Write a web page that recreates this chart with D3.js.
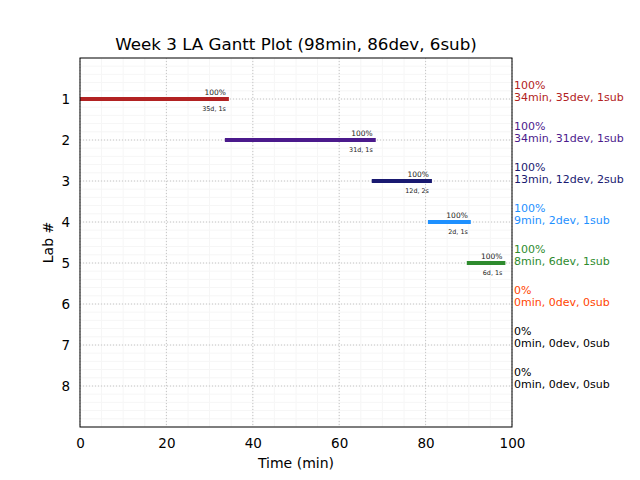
<!DOCTYPE html>
<html><head><meta charset="utf-8">
<script src="https://cdn.jsdelivr.net/npm/d3@7"></script>
<style>body{margin:0;background:#fff}svg{font-family:"DejaVu Sans",sans-serif}</style>
</head><body><svg id="c" width="640" height="480"></svg>
<script>
const labs = [1,2,3,4,5,6,7,8];
const starts = [0,34,68,81,90,0,0,0];
const durations = [34,34,13,9,8,0,0,0];
const devs = [35,31,12,2,6,0,0,0];
const subs = [1,1,2,1,1,0,0,0];
const pcts = [100,100,100,100,100,0,0,0];
const colors = ["#b22222","#4b1a8c","#191970","#1e90ff","#2e8b2e","#ff4500","#000000","#000000"];
const xTicks = [0,20,40,60,80,100];
const title = "Week 3 LA Gantt Plot (98min, 86dev, 6sub)";

const svg = d3.select("#c");
const L=80,R=512,T=58,B=427;
const x = d3.scaleLinear().domain([0,100]).range([L,R]);
const y = d3.scaleLinear().domain([0,9]).range([T,B]);

svg.append("defs").append("clipPath").attr("id","clip").append("rect")
 .attr("x",L).attr("y",T).attr("width",R-L).attr("height",B-T);

// minor grid
const g = svg.append("g");
g.selectAll(".mx").data(d3.range(0,101,5)).join("line")
 .attr("x1",d=>x(d)).attr("x2",d=>x(d)).attr("y1",T).attr("y2",B)
 .attr("stroke","#f6f6f6").attr("stroke-width",1);
g.selectAll(".my").data(d3.range(0,9.01,0.2)).join("line")
 .attr("y1",d=>y(d)).attr("y2",d=>y(d)).attr("x1",L).attr("x2",R)
 .attr("stroke","#f6f6f6").attr("stroke-width",1);
// major grid
g.selectAll(".Mx").data(xTicks).join("line")
 .attr("x1",d=>x(d)).attr("x2",d=>x(d)).attr("y1",T).attr("y2",B)
 .attr("stroke","#b8b8b8").attr("stroke-width",0.8).attr("stroke-dasharray","1,2");
g.selectAll(".My").data(labs).join("line")
 .attr("y1",d=>y(d)).attr("y2",d=>y(d)).attr("x1",L).attr("x2",R)
 .attr("stroke","#b8b8b8").attr("stroke-width",0.8).attr("stroke-dasharray","1,2");

// bars
const bars = svg.append("g").attr("clip-path","url(#clip)");
labs.forEach((lab,i)=>{
  if(durations[i]<=0) return;
  const x0=x(starts[i]), x1=x(starts[i]+durations[i]);
  bars.append("line").attr("x1",x0).attr("x2",x1).attr("y1",y(lab)).attr("y2",y(lab))
    .attr("stroke",colors[i]).attr("stroke-width",4).attr("stroke-linecap","square");
  svg.append("text").attr("x",x1-1).attr("y",y(lab)-4).attr("text-anchor","end")
    .attr("font-size",7.5).attr("fill","#222").text(pcts[i]+"%");
  svg.append("text").attr("x",x1-1).attr("y",y(lab)+12).attr("text-anchor","end")
    .attr("font-size",6.4).attr("fill","#222").text(devs[i]+"d, "+subs[i]+"s");
});

// right texts
labs.forEach((lab,i)=>{
  const t = svg.append("text").attr("x",514).attr("fill",colors[i]).attr("font-size",11);
  t.append("tspan").attr("x",514).attr("y",y(lab)-10.5).text(pcts[i]+"%");
  t.append("tspan").attr("x",514).attr("y",y(lab)+1.5).text(durations[i]+"min, "+devs[i]+"dev, "+subs[i]+"sub");
});

// frame
svg.append("rect").attr("x",L).attr("y",T).attr("width",R-L).attr("height",B-T)
 .attr("fill","none").attr("stroke","#000").attr("stroke-width",1);

// axes
const xa = svg.append("g").attr("transform",`translate(0,${B})`)
 .call(d3.axisBottom(x).tickValues(xTicks).tickSize(0).tickPadding(11).tickFormat(d3.format("d")));
xa.select(".domain").remove();
xa.selectAll("text").attr("font-size",13.5).attr("font-family","DejaVu Sans").attr("fill","#000");
const ya = svg.append("g").attr("transform",`translate(${L},0)`)
 .call(d3.axisLeft(y).tickValues(labs).tickSize(0).tickPadding(10).tickFormat(d3.format("d")));
ya.select(".domain").remove();
ya.selectAll("text").attr("font-size",13.5).attr("font-family","DejaVu Sans").attr("fill","#000");

svg.append("text").attr("x",(L+R)/2).attr("y",468).attr("text-anchor","middle")
 .attr("font-size",14).text("Time (min)");
svg.append("text").attr("transform",`translate(53,${(T+B)/2}) rotate(-90)`).attr("text-anchor","middle")
 .attr("font-size",14).text("Lab #");
svg.append("text").attr("x",(L+R)/2).attr("y",50).attr("text-anchor","middle")
 .attr("font-size",16.7).text(title);
</script></body></html>
